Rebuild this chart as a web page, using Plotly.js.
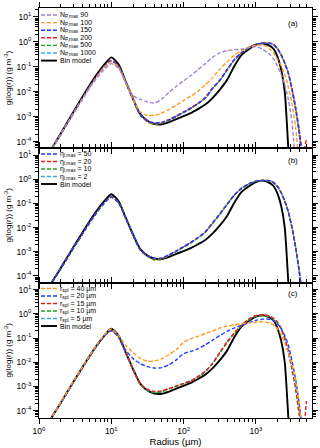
<!DOCTYPE html>
<html><head><meta charset="utf-8">
<script src="https://cdn.plot.ly/plotly-3.0.1.min.js"></script>
<style>html,body{margin:0;padding:0;background:#fff}#chart{width:320px;height:448px}</style>
</head><body><div id="chart"></div>
<script>
// Radius grid (µm)
const radius = [1.26,1.58,2.0,2.51,3.16,3.98,5.01,6.31,7.94,10.0,12.6,15.8,20.0,25.1,31.6,39.8,50.1,63.1,79.4,100,126,158,200,251,316,398,501,631,794,1000,1259,1585,1778,1995,2239,2512,2818,3162,3548,3981,4467,5012];

// log10 of g(log r) [g m^-3]
const binModel = [-4.65,-4.16,-3.67,-3.18,-2.69,-2.21,-1.74,-1.30,-0.92,-0.62,
 -0.90,-1.58,-2.28,-2.88,-3.16,-3.29,-3.30,-3.21,-3.09,-2.97,
 -2.85,-2.69,-2.51,-2.25,-1.92,-1.53,-0.98,-0.53,-0.30,-0.12,
 -0.06,-0.17,-0.30,-0.60,-1.10,-2.00,-4.30,-7.0,null,null,null,null];

// Panel (a): N_P,max
const aN90 = [-4.68,-4.20,-3.72,-3.24,-2.76,-2.30,-1.85,-1.45,-1.10,-0.87,
 -1.05,-1.60,-2.15,-2.30,-2.40,-2.45,-2.28,-2.02,-1.78,-1.56,
 -1.35,-1.12,-0.87,-0.62,-0.44,-0.35,-0.31,-0.29,-0.24,-0.19,
 -0.30,-0.52,-0.70,-0.97,-1.30,-1.72,-2.30,-3.20,-5.0,null,null,null];
const aN100 = [-4.67,-4.19,-3.71,-3.23,-2.75,-2.28,-1.82,-1.40,-1.02,-0.80,
 -1.02,-1.62,-2.30,-2.80,-2.95,-2.93,-2.85,-2.70,-2.53,-2.35,
 -2.17,-1.98,-1.72,-1.43,-1.10,-0.80,-0.54,-0.35,-0.21,-0.14,
 -0.12,-0.30,-0.47,-0.70,-0.95,-1.30,-1.80,-2.45,-3.40,-5.0,null,null];
const aN150 = [-4.66,-4.18,-3.70,-3.22,-2.74,-2.27,-1.80,-1.37,-1.00,-0.75,
 -0.98,-1.60,-2.30,-2.90,-3.15,-3.25,-3.22,-3.12,-2.98,-2.82,
 -2.66,-2.47,-2.25,-1.87,-1.55,-1.13,-0.72,-0.44,-0.24,-0.10,
 -0.05,-0.06,-0.12,-0.28,-0.52,-0.85,-1.26,-1.90,-2.65,-3.60,-4.80,null];
const aN200 = [-4.66,-4.18,-3.70,-3.22,-2.74,-2.27,-1.80,-1.36,-0.99,-0.74,
 -0.97,-1.60,-2.30,-2.92,-3.18,-3.27,-3.24,-3.10,-2.96,-2.80,
 -2.64,-2.46,-2.22,-1.85,-1.53,-1.12,-0.71,-0.43,-0.23,-0.09,
 -0.04,-0.05,-0.11,-0.27,-0.50,-0.83,-1.24,-1.85,-2.60,-3.50,-4.50,-3.90];
const aN500 = [-4.66,-4.18,-3.70,-3.22,-2.74,-2.27,-1.80,-1.37,-1.00,-0.75,
 -0.98,-1.62,-2.32,-2.93,-3.20,-3.30,-3.26,-3.13,-2.99,-2.83,
 -2.67,-2.48,-2.25,-1.88,-1.56,-1.14,-0.73,-0.44,-0.24,-0.10,
 -0.05,-0.06,-0.12,-0.28,-0.52,-0.86,-1.27,-1.92,-2.70,-3.70,-5.0,null];
const aN1000 = [-4.66,-4.18,-3.70,-3.22,-2.74,-2.27,-1.80,-1.37,-1.00,-0.75,
 -0.98,-1.61,-2.31,-2.91,-3.17,-3.27,-3.24,-3.12,-2.97,-2.81,
 -2.65,-2.46,-2.24,-1.86,-1.54,-1.12,-0.72,-0.43,-0.24,-0.10,
 -0.05,-0.06,-0.12,-0.28,-0.52,-0.85,-1.26,-1.90,-2.65,-3.60,-4.80,null];

// Panel (b): eta_l,max
const bEta50 = [-4.66,-4.18,-3.70,-3.22,-2.74,-2.27,-1.80,-1.37,-0.99,-0.73,
 -0.97,-1.60,-2.30,-2.90,-3.17,-3.27,-3.25,-3.12,-2.97,-2.80,
 -2.62,-2.42,-2.18,-1.82,-1.45,-1.05,-0.66,-0.38,-0.20,-0.08,
 -0.05,-0.07,-0.15,-0.30,-0.55,-0.90,-1.35,-2.00,-2.80,-3.80,-5.0,null];
const bEta20 = [-4.66,-4.18,-3.70,-3.22,-2.74,-2.27,-1.80,-1.37,-0.99,-0.73,
 -0.97,-1.61,-2.31,-2.91,-3.18,-3.30,-3.28,-3.13,-2.96,-2.78,
 -2.61,-2.41,-2.17,-1.81,-1.44,-1.04,-0.66,-0.38,-0.20,-0.08,
 -0.05,-0.07,-0.15,-0.30,-0.55,-0.90,-1.34,-1.98,-2.78,-3.75,-4.90,null];
const bEta10 = [-4.66,-4.18,-3.70,-3.22,-2.74,-2.27,-1.80,-1.37,-0.99,-0.73,
 -0.97,-1.61,-2.32,-2.93,-3.19,-3.34,-3.30,-3.15,-2.99,-2.82,
 -2.63,-2.43,-2.19,-1.83,-1.46,-1.06,-0.67,-0.39,-0.20,-0.08,
 -0.05,-0.07,-0.15,-0.31,-0.56,-0.91,-1.36,-2.02,-2.82,-3.85,-5.0,null];
const bEta2 = [-4.66,-4.18,-3.70,-3.22,-2.74,-2.27,-1.80,-1.37,-0.99,-0.73,
 -0.97,-1.60,-2.31,-2.92,-3.18,-3.31,-3.27,-3.13,-2.97,-2.80,
 -2.62,-2.42,-2.18,-1.82,-1.45,-1.05,-0.66,-0.38,-0.20,-0.08,
 -0.05,-0.07,-0.15,-0.30,-0.55,-0.90,-1.35,-2.00,-2.80,-3.80,-5.0,null];

// Panel (c): r_spl
const cR40 = [-4.64,-4.15,-3.66,-3.17,-2.68,-2.20,-1.73,-1.27,-0.88,-0.63,
 -0.90,-1.30,-1.60,-1.84,-1.96,-1.95,-1.85,-1.68,-1.48,-1.18,
 -1.03,-0.93,-0.82,-0.71,-0.59,-0.51,-0.46,-0.41,-0.37,-0.34,
 -0.33,-0.39,-0.47,-0.62,-0.85,-1.20,-1.62,-2.10,-2.80,-3.80,-5.0,null];
const cR20 = [-4.65,-4.17,-3.68,-3.20,-2.71,-2.23,-1.76,-1.31,-0.92,-0.70,
 -0.95,-1.50,-1.85,-2.05,-2.18,-2.24,-2.22,-2.10,-1.90,-1.65,
 -1.55,-1.45,-1.28,-1.10,-0.90,-0.73,-0.59,-0.48,-0.37,-0.27,
 -0.22,-0.23,-0.30,-0.42,-0.60,-0.90,-1.30,-1.95,-2.70,-3.70,-5.0,null];
const cR15 = [-4.65,-4.17,-3.68,-3.20,-2.71,-2.23,-1.76,-1.31,-0.92,-0.68,
 -0.97,-1.60,-2.30,-2.88,-3.12,-3.20,-3.18,-3.08,-2.98,-2.88,
 -2.78,-2.60,-2.38,-2.05,-1.60,-1.16,-0.80,-0.48,-0.22,-0.07,
 -0.04,-0.10,-0.20,-0.35,-0.60,-1.00,-1.55,-2.20,-3.00,-4.10,-5.0,-3.6];
const cR10 = [-4.65,-4.17,-3.68,-3.20,-2.71,-2.24,-1.77,-1.32,-0.93,-0.68,
 -0.96,-1.60,-2.30,-2.90,-3.15,-3.25,-3.22,-3.10,-2.99,-2.88,
 -2.76,-2.60,-2.38,-2.06,-1.63,-1.20,-0.82,-0.50,-0.26,-0.10,
 -0.07,-0.13,-0.22,-0.37,-0.62,-1.02,-1.60,-2.30,-3.10,-4.20,null,null];
const cR5 = [-4.65,-4.17,-3.68,-3.20,-2.71,-2.24,-1.77,-1.32,-0.93,-0.69,
 -0.97,-1.61,-2.31,-2.91,-3.16,-3.24,-3.20,-3.09,-2.98,-2.87,
 -2.75,-2.59,-2.37,-2.05,-1.62,-1.19,-0.81,-0.49,-0.25,-0.10,
 -0.07,-0.13,-0.22,-0.37,-0.62,-1.02,-1.58,-2.28,-3.05,-4.10,null,null];

const xTickVals = [1,10,100,1000];
const xTickText = ['10<sup>0</sup>','10<sup>1</sup>','10<sup>2</sup>','10<sup>3</sup>'];
const yTickVals = [1e-4,1e-3,1e-2,1e-1,1,10];
const yTickText = ['10<sup>-4</sup>','10<sup>-3</sup>','10<sup>-2</sup>','10<sup>-1</sup>','10<sup>0</sup>','10<sup>1</sup>'];

const legendA = ['N<sub>P,max</sub> 90','N<sub>P,max</sub> 100','N<sub>P,max</sub> 150','N<sub>P,max</sub> 200','N<sub>P,max</sub> 500','N<sub>P,max</sub> 1000','Bin model'];
const legendB = ['η<sub>l,max</sub> = 50','η<sub>l,max</sub> = 20','η<sub>l,max</sub> = 10','η<sub>l,max</sub> = 2','Bin model'];
const legendC = ['r<sub>spl</sub> = 40 µm','r<sub>spl</sub> = 20 µm','r<sub>spl</sub> = 15 µm','r<sub>spl</sub> = 10 µm','r<sub>spl</sub> = 5 µm','Bin model'];

const C = {purple:'#a27fd2', orange:'#ff9a1f', blue:'#1f3dff', red:'#ee1c1c', green:'#1fa31f', cyan:'#33aaee', black:'#000000'};
const FONT = 'Liberation Sans, Arial, Helvetica, sans-serif';

// layout geometry in pixels
const L = 39, R = 312, T = 8, B = 418;
const px = x => (x - L) / (R - L);
const py = y => (B - y) / (B - T);

const toG = a => a.map(v => v === null ? null : Math.pow(10, v));
function tr(vals, color, xa, ya, solid){
  return {x: radius, y: toG(vals), xaxis: xa, yaxis: ya, type: 'scatter', mode: 'lines',
    line: {color: color, width: solid ? 1.9 : 1.4, dash: solid ? 'solid' : '4px,2px', shape:'spline', smoothing:0.6},
    hoverinfo: 'skip', showlegend: false, connectgaps: false};
}

const data = [
  tr(binModel, C.black, 'x', 'y', true),
  tr(aN1000, C.cyan, 'x', 'y'), tr(aN500, C.green, 'x', 'y'), tr(aN200, C.red, 'x', 'y'),
  tr(aN150, C.blue, 'x', 'y'), tr(aN100, C.orange, 'x', 'y'), tr(aN90, C.purple, 'x', 'y'),
  tr(binModel, C.black, 'x2', 'y2', true),
  tr(bEta2, C.cyan, 'x2', 'y2'), tr(bEta10, C.green, 'x2', 'y2'), tr(bEta20, C.red, 'x2', 'y2'), tr(bEta50, C.blue, 'x2', 'y2'),
  tr(binModel, C.black, 'x3', 'y3', true),
  tr(cR5, C.cyan, 'x3', 'y3'), tr(cR10, C.green, 'x3', 'y3'), tr(cR15, C.red, 'x3', 'y3'),
  tr(cR20, C.blue, 'x3', 'y3'), tr(cR40, C.orange, 'x3', 'y3')
];

function minorVals(lo, hi){ const v=[]; for(let e=lo;e<=hi;e++) for(let k=2;k<=9;k++) v.push(k*Math.pow(10,e)); return v; }

function xAx(anchor, showLabels){
  const o = {type:'log', range:[0,3.777], domain:[0,1], anchor: anchor,
    showline:true, linecolor:'#000', linewidth:1, mirror:'allticks',
    ticks:'outside', ticklen:5, tickwidth:1, tickcolor:'#000',
    tickmode:'array', tickvals:xTickVals, ticktext:xTickText, showticklabels: showLabels,
    tickfont:{family:FONT, size:8.5, color:'#000'},
    minor:{tickmode:'array', tickvals:minorVals(0,3), ticks:'outside', ticklen:3, tickwidth:1, tickcolor:'#000', showgrid:false},
    showgrid:false, zeroline:false, fixedrange:true};
  if (showLabels) o.title = {text:'Radius (µm)', font:{family:FONT, size:9.5, color:'#000'}, standoff:2};
  return o;
}
function yAx(anchor, dom, rng){
  return {type:'log', range:rng, domain:dom, anchor: anchor,
    showline:true, linecolor:'#000', linewidth:1, mirror:'allticks',
    ticks:'outside', ticklen:5, tickwidth:1, tickcolor:'#000',
    tickmode:'array', tickvals:yTickVals, ticktext:yTickText,
    tickfont:{family:FONT, size:8.5, color:'#000'},
    minor:{tickmode:'array', tickvals:minorVals(-5,1), ticks:'outside', ticklen:3, tickwidth:1, tickcolor:'#000', showgrid:false},
    title:{text:'g(log(r)) (g m<sup>-3</sup>)', font:{family:FONT, size:8, color:'#000'}, standoff:3},
    showgrid:false, zeroline:false, fixedrange:true};
}

const annotations = [];
const shapes = [];
function addLegend(labels, colors, y0, step){
  labels.forEach((t, i) => {
    const yy = y0 + i * step;
    const solid = (t === 'Bin model');
    shapes.push({type:'line', xref:'paper', yref:'paper', x0:px(41), x1:px(57), y0:py(yy), y1:py(yy),
      line:{color:colors[i], width: solid ? 1.9 : 1.4, dash: solid ? 'solid' : '4px,2px'}});
    annotations.push({xref:'paper', yref:'paper', x:px(58), y:py(yy), xanchor:'left', yanchor:'middle',
      text:t, showarrow:false, font:{family:FONT, size:7, color:'#000'}});
  });
}
addLegend(legendA, [C.purple,C.orange,C.blue,C.red,C.green,C.cyan,C.black], 15, 7.6);
addLegend(legendB, [C.blue,C.red,C.green,C.cyan,C.black], 154, 7.5);
addLegend(legendC, [C.orange,C.blue,C.red,C.green,C.cyan,C.black], 288.5, 7.5);

[['(a)',23],['(b)',160],['(c)',293]].forEach(([t,y]) => {
  annotations.push({xref:'paper', yref:'paper', x:px(293), y:py(y), xanchor:'center', yanchor:'middle',
    text:t, showarrow:false, font:{family:FONT, size:8, color:'#000'}});
});

const layout = {
  width:320, height:448, margin:{l:L, r:320-R, t:T, b:448-B},
  paper_bgcolor:'#fff', plot_bgcolor:'#fff', showlegend:false,
  font:{family:FONT, color:'#000'},
  xaxis: xAx('y', false),
  xaxis2: xAx('y2', false),
  xaxis3: xAx('y3', true),
  yaxis: yAx('x', [py(148), 1], [-4.25, 1.36]),
  yaxis2: yAx('x2', [py(282.5), py(148)], [-4.27, 1.29]),
  yaxis3: yAx('x3', [0, py(282.5)], [-4.3, 1.29]),
  annotations: annotations, shapes: shapes
};

Plotly.newPlot('chart', data, layout, {staticPlot:true, displayModeBar:false});
</script></body></html>
